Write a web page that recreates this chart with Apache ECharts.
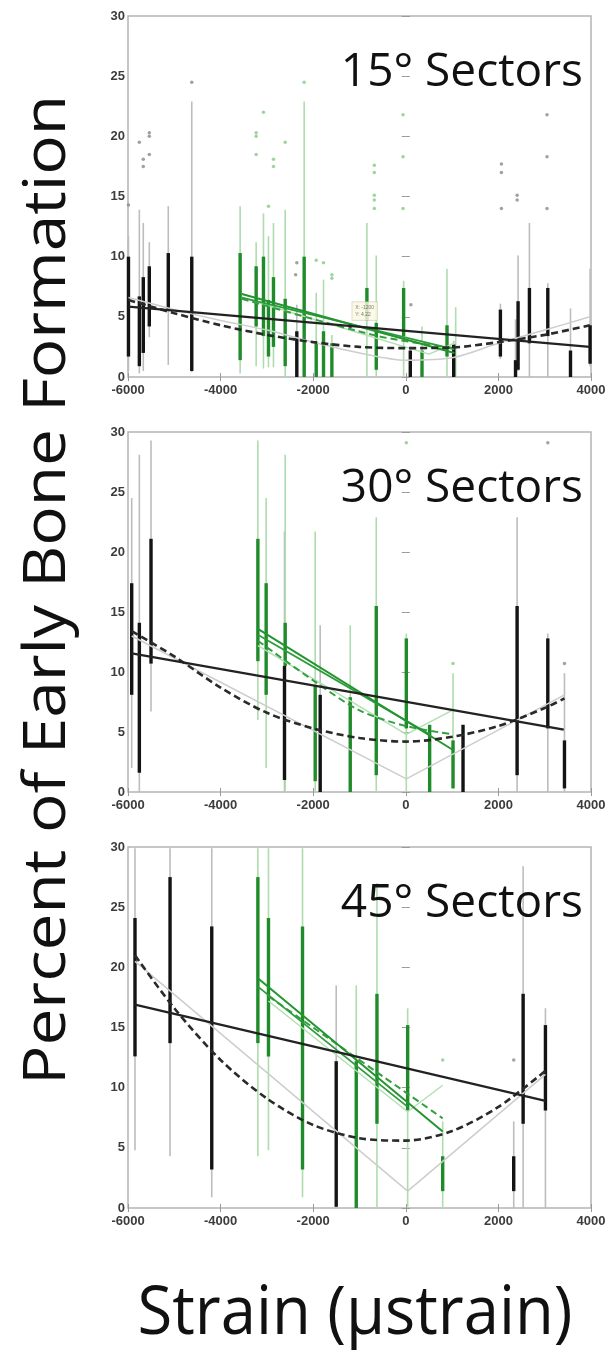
<!DOCTYPE html>
<html>
<head>
<meta charset="utf-8">
<script src="https://cdn.jsdelivr.net/npm/echarts@6/dist/echarts.min.js"></script>
<style>
html, body { margin: 0; padding: 0; background: #fff; }
#chart { width: 610px; height: 1353px; }
</style>
</head>
<body>
<div id="chart"></div>
<script>
// axis ticks
var xTicks = [-6000, -4000, -2000, 0, 2000, 4000];
var yTicks = [0, 5, 10, 15, 20, 25, 30];
var panelTitles = ['15° Sectors', '30° Sectors', '45° Sectors'];

// boxes: [strain, whiskerLow, q1, q3, whiskerHigh]
// ---- 15 deg
var s15BlackBox = [
    [-5990, 0.5, 1.7, 10.0, 11.7], [-5755, 0.3, 0.9, 6.7, 13.9], [-5670, 0.5, 2.0, 8.3, 12.8],
    [-5540, 3.3, 4.2, 9.2, 11.2], [-5130, 1.0, 5.6, 10.3, 14.2], [-4623, 0.4, 0.5, 10.0, 22.9],
    [-2354, 0, 0, 3.8, 6.0], [97, 0, 0, 2.2, 2.5], [1035, 0, 0, 2.7, 3.0],
    [2043, 1.5, 1.7, 5.6, 6.1], [2370, 0, 0, 1.4, 4.8], [2425, 0.5, 0.6, 6.3, 10.1],
    [2670, 0, 2.8, 7.4, 12.8], [3067, 0, 3.4, 7.4, 7.8], [3557, 0, 0, 2.2, 5.7],
    [3980, 0.9, 1.1, 4.3, 9.0]
];
var s15GreenBox = [
    [-3578, 0.3, 1.4, 10.3, 14.2], [-3232, 0.9, 4.2, 9.2, 11.2], [-3074, 0.7, 3.4, 10.0, 13.6],
    [-2966, 0.8, 1.7, 6.4, 11.7], [-2858, 0.8, 2.5, 8.3, 12.8], [-2605, 0, 0.9, 6.5, 13.9],
    [-2195, 0, 0, 10.0, 22.9], [-1935, 0, 0, 2.8, 7.0], [-1777, 0, 0, 3.8, 8.1],
    [-1597, 0, 0, 2.8, 3.5], [-840, 0, 4.7, 7.4, 12.8], [-638, 0, 0.6, 4.5, 10.1],
    [-47, 0, 3.4, 7.4, 8.0], [350, 0, 0, 2.2, 4.2], [890, 0, 1.7, 4.3, 9.0], [1078, 0, 0, 0, 5.8]
];
var s15GreyDots = [
    [-6015, 22.0], [-5990, 14.3], [-5755, 19.5], [-5670, 18.1], [-5670, 17.5], [-5540, 20.3],
    [-5540, 20.0], [-5540, 18.5], [-4623, 24.5], [-2354, 9.5], [-2380, 8.5], [110, 6.0],
    [2065, 17.7], [2065, 17.0], [2065, 14.0], [2405, 15.1], [2405, 14.7],
    [3050, 21.8], [3050, 18.3], [3050, 14.0]
];
var s15GreenDots = [
    [-3232, 20.3], [-3232, 20.0], [-3232, 18.5], [-3074, 22.0], [-2858, 18.1], [-2858, 17.5],
    [-2605, 19.5], [-2195, 24.5], [-2966, 14.2], [-1935, 9.7], [-1777, 9.5], [-1597, 8.5],
    [-1597, 8.2], [-680, 17.6], [-680, 17.0], [-680, 15.1], [-680, 14.7], [-680, 14.0],
    [-60, 21.8], [-60, 18.3], [-60, 14.0]
];
var s15BlackLin = [[-5990, 5.85], [3975, 2.5]];
var s15BlackQuad = [[-5990, 6.4], [-5000, 5.3], [-4000, 4.3], [-3000, 3.5], [-2000, 2.9], [-1000, 2.5], [0, 2.4], [1000, 2.45], [2000, 2.9], [3000, 3.5], [3975, 4.3]];
var s15GreyFit = [[-5990, 6.6], [-5000, 5.6], [-4000, 4.7], [-3000, 3.9], [-2000, 2.9], [-1000, 2.0], [0, 1.4], [1000, 1.6], [2000, 2.8], [3000, 3.9], [3975, 5.0]];
var s15GreenFit = [[-3540, 6.9], [1050, 2.0]];
var s15GreenFit2 = [[-3540, 6.6], [1050, 2.3]];
var s15GreenDash = [[-3540, 6.5], [-600, 3.4], [1050, 2.4]];
var s15LightGreen = [[-3540, 6.6], [500, 1.9], [1050, 2.8]];
var s15Tip = [[-1200, 4.22]];

// ---- 30 deg
var s30BlackBox = [
    [-5920, 2.0, 8.1, 17.4, 24.5], [-5755, 0, 1.6, 14.1, 28.1], [-5503, 6.7, 10.7, 21.1, 29.3],
    [-2620, 0, 1.0, 10.5, 21.7], [-1849, 0, 0, 8.1, 13.9], [1236, 0, 0, 5.6, 5.6],
    [2404, 0, 1.4, 15.5, 22.9], [3067, 0, 5.3, 12.8, 13.2], [3427, 0, 0.3, 4.3, 9.9]
];
var s30GreenBox = [
    [-3195, 6.0, 10.9, 21.1, 29.3], [-3016, 2.0, 8.1, 17.4, 24.5], [-2605, 0, 10.5, 14.1, 28.1],
    [-1957, 0, 0.9, 8.9, 21.7], [-1200, 0, 0, 7.9, 13.9], [-638, 0, 1.4, 15.5, 22.9],
    [11, 0, 5.3, 12.8, 13.2], [515, 0, 0, 5.6, 5.6], [1020, 0.3, 0.3, 4.3, 9.9]
];
var s30GreyDots = [[3067, 29.1], [3427, 10.7]];
var s30GreenDots = [[11, 29.1], [1020, 10.7]];
var s30BlackLin = [[-5920, 11.55], [3412, 5.2]];
var s30BlackQuad = [[-5920, 13.4], [-5000, 11.3], [-4000, 8.7], [-3000, 6.6], [-2000, 5.3], [-1000, 4.5], [0, 4.2], [1000, 4.6], [2000, 5.5], [3000, 7.0], [3427, 7.8]];
var s30GreyFit = [[-5920, 13.0], [11, 1.1], [3427, 8.1]];
var s30GreenFit = [[-3195, 13.6], [1020, 3.5]];
var s30GreenFit2 = [[-3195, 13.1], [515, 4.8]];
var s30GreenDash = [[-3195, 12.6], [-2000, 9.3], [-1000, 6.8], [0, 5.5], [1020, 4.8]];
var s30LightGreen = [[-3195, 12.2], [11, 4.8], [1000, 6.8]];

// ---- 45 deg
var s45BlackBox = [
    [-5849, 4.8, 12.6, 24.1, 29.9], [-5092, 4.3, 13.7, 27.5, 29.9], [-4191, 0.9, 3.2, 23.4, 29.9],
    [-1503, 0, 0.1, 12.2, 18.5], [2331, 0, 1.4, 4.3, 7.2], [2534, 0, 7.0, 17.8, 28.4],
    [3016, 0, 8.1, 15.2, 16.6]
];
var s45GreenBox = [
    [-3195, 4.3, 13.7, 27.5, 29.9], [-2966, 4.8, 12.6, 24.1, 29.9], [-2231, 0.9, 3.2, 23.4, 29.9],
    [-1070, 0, 0, 12.2, 18.5], [-623, 0, 7.0, 17.8, 27.0], [40, 0, 8.1, 15.2, 16.6],
    [797, 0, 1.4, 4.3, 7.2]
];
var s45GreyDots = [[2331, 12.3]];
var s45GreenDots = [[797, 12.3]];
var s45BlackLin = [[-5849, 16.9], [3016, 8.9]];
var s45BlackQuad = [[-5849, 21.0], [-5000, 16.6], [-4000, 12.3], [-3000, 9.1], [-2000, 6.9], [-1000, 5.8], [0, 5.6], [1000, 6.4], [2000, 8.4], [3016, 11.4]];
var s45GreyFit = [[-5849, 20.5], [40, 1.4], [3016, 11.1]];
var s45GreenFit = [[-3195, 19.1], [797, 6.35]];
var s45GreenFit2 = [[-3195, 18.4], [40, 8.4]];
var s45GreenDash = [[-2966, 17.6], [797, 7.45]];
var s45LightGreen = [[-2966, 17.2], [40, 8.0], [797, 10.2]];

var panels = [
    {box: s15BlackBox, gbox: s15GreenBox, dots: s15GreyDots, gdots: s15GreenDots, lin: s15BlackLin, quad: s15BlackQuad,
     grey: s15GreyFit, gfit: s15GreenFit, gfit2: s15GreenFit2, gdash: s15GreenDash, lgreen: s15LightGreen, greySmooth: true},
    {box: s30BlackBox, gbox: s30GreenBox, dots: s30GreyDots, gdots: s30GreenDots, lin: s30BlackLin, quad: s30BlackQuad,
     grey: s30GreyFit, gfit: s30GreenFit, gfit2: s30GreenFit2, gdash: s30GreenDash, lgreen: s30LightGreen, greySmooth: false},
    {box: s45BlackBox, gbox: s45GreenBox, dots: s45GreyDots, gdots: s45GreenDots, lin: s45BlackLin, quad: s45BlackQuad,
     grey: s45GreyFit, gfit: s45GreenFit, gfit2: s45GreenFit2, gdash: s45GreenDash, lgreen: s45LightGreen, greySmooth: false}
];
var gridTops = [16, 432, 847];
var gridHeights = [361, 360, 361];

var myChart = echarts.init(document.getElementById('chart'));

var grid = [], xAxis = [], yAxis = [], series = [], graphic = [];
var labelStyle = {color: '#3c3c3c', fontSize: 13, fontWeight: 'bold', fontFamily: 'Liberation Sans',
                  formatter: function (v) { return String(v); }};

// vertical segment between two columns of a box row
function segSeries(data, i, lo, hi, color, width, z) {
    return {
        type: 'custom', xAxisIndex: 2 * i, yAxisIndex: 2 * i, data: data, z: z, silent: true,
        renderItem: function (params, api) {
            var a = api.coord([api.value(0), api.value(lo)]);
            var b = api.coord([api.value(0), api.value(hi)]);
            return {type: 'line', shape: {x1: a[0], y1: a[1], x2: b[0], y2: b[1]},
                    style: {stroke: color, lineWidth: width}};
        }
    };
}
function lineSeries(data, i, color, width, dash, smooth, z) {
    return {
        type: 'line', xAxisIndex: 2 * i, yAxisIndex: 2 * i, data: data, z: z, silent: true,
        showSymbol: false, smooth: smooth,
        lineStyle: {color: color, width: width, type: dash ? [7, 4] : 'solid'}
    };
}
function dotSeries(data, i, color, z) {
    return {type: 'scatter', xAxisIndex: 2 * i, yAxisIndex: 2 * i, data: data, z: z, silent: true,
            symbolSize: 3.5, itemStyle: {color: color}};
}

panels.forEach(function (p, i) {
    grid.push({left: 128, width: 463, top: gridTops[i], height: gridHeights[i],
               show: true, borderColor: '#b4b4b4', borderWidth: 1.5, backgroundColor: '#fff'});
    var xMin = xTicks[0], xMax = xTicks[xTicks.length - 1];
    var yMin = yTicks[0], yMax = yTicks[yTicks.length - 1];
    xAxis.push({type: 'value', gridIndex: i, min: xMin, max: xMax, interval: 2000, position: 'bottom',
                axisLine: {show: false}, splitLine: {show: false},
                axisTick: {inside: true, length: 4, lineStyle: {color: '#999'}},
                axisLabel: Object.assign({margin: 7}, labelStyle)});
    xAxis.push({type: 'value', gridIndex: i, min: xMin, max: xMax, interval: 2000, position: 'top',
                axisLine: {show: false}, splitLine: {show: false}, axisLabel: {show: false},
                axisTick: {inside: true, length: 4, lineStyle: {color: '#999'}}});
    yAxis.push({type: 'value', gridIndex: i, min: yMin, max: yMax, interval: 5, position: 'left',
                axisLine: {show: false}, splitLine: {show: false},
                axisTick: {inside: true, length: 4, lineStyle: {color: '#999'}},
                axisLabel: Object.assign({margin: 3}, labelStyle)});
    yAxis.push({type: 'value', gridIndex: i, min: yMin, max: yMax, interval: 5, position: 'right',
                axisLine: {show: false}, splitLine: {show: false}, axisLabel: {show: false},
                axisTick: {inside: true, length: 4, lineStyle: {color: '#999'}}});

    series.push(segSeries(p.box, i, 1, 4, '#bdbdbd', 1.6, 2));
    series.push(segSeries(p.gbox, i, 1, 4, '#aedcae', 1.6, 2));
    series.push(dotSeries(p.dots, i, '#8a8a8a', 3));
    series.push(dotSeries(p.gdots, i, '#86c986', 3));
    series.push(segSeries(p.box, i, 2, 3, '#141414', 3.4, 4));
    series.push(segSeries(p.gbox, i, 2, 3, '#1f8b2a', 3.4, 4));
    series.push(lineSeries(p.grey, i, '#cdcdcd', 1.5, false, p.greySmooth ? 0.3 : false, 5));
    series.push(lineSeries(p.lgreen, i, '#b3dfb3', 1.5, false, false, 5));
    series.push(lineSeries(p.gdash, i, '#33a040', 2, true, 0.3, 6));
    series.push(lineSeries(p.gfit2, i, '#2f9c3b', 1.8, false, false, 6));
    series.push(lineSeries(p.gfit, i, '#23952f', 2, false, false, 6));
    series.push(lineSeries(p.quad, i, '#2a2a2a', 2.6, true, 0.3, 7));
    series.push(lineSeries(p.lin, i, '#222', 2.2, false, false, 7));

    graphic.push({type: 'text', x: 583, y: gridTops[i] + 57, z: 20,
                  style: {text: panelTitles[i], font: '46px "Open Sans"', fill: '#111',
                          align: 'right', verticalAlign: 'middle'}});
});

// data tip in the 15 deg panel
series.push({type: 'scatter', xAxisIndex: 0, yAxisIndex: 0, data: s15Tip, z: 9, silent: true,
             symbolSize: 4, itemStyle: {color: '#222'},
             label: {show: true, position: [4, -22], fontSize: 5, color: '#555', lineHeight: 7,
                     backgroundColor: '#fbf8e2', borderColor: '#c8c8b0', borderWidth: 0.6, padding: [2, 3],
                     formatter: function (d) { return 'X: ' + d.value[0] + '\nY: ' + d.value[1]; }}});

// axis titles, stretched to the reference size
function textWidth(text, font) {
    var ctx = document.createElement('canvas').getContext('2d');
    ctx.font = font;
    return ctx.measureText(text).width;
}
var yTitle = 'Percent of Early Bone Formation';
var yFont = '58px "Open Sans"';
var xTitle = 'Strain (µstrain)';
var xFont = '68px "Open Sans"';
graphic.push({type: 'text', x: 48, y: 590, rotation: Math.PI / 2, z: 20,
              scaleX: 990 / textWidth(yTitle, yFont),
              style: {text: yTitle, font: yFont, fill: '#111', align: 'center', verticalAlign: 'middle'}});
graphic.push({type: 'text', x: 355, y: 1315, z: 20,
              scaleX: 435 / textWidth(xTitle, xFont),
              style: {text: xTitle, font: xFont, fill: '#111', align: 'center', verticalAlign: 'middle'}});

option = {
    backgroundColor: '#fff',
    animation: false,
    grid: grid,
    xAxis: xAxis,
    yAxis: yAxis,
    series: series,
    graphic: graphic
};
myChart.setOption(option);
</script>
</body>
</html>
